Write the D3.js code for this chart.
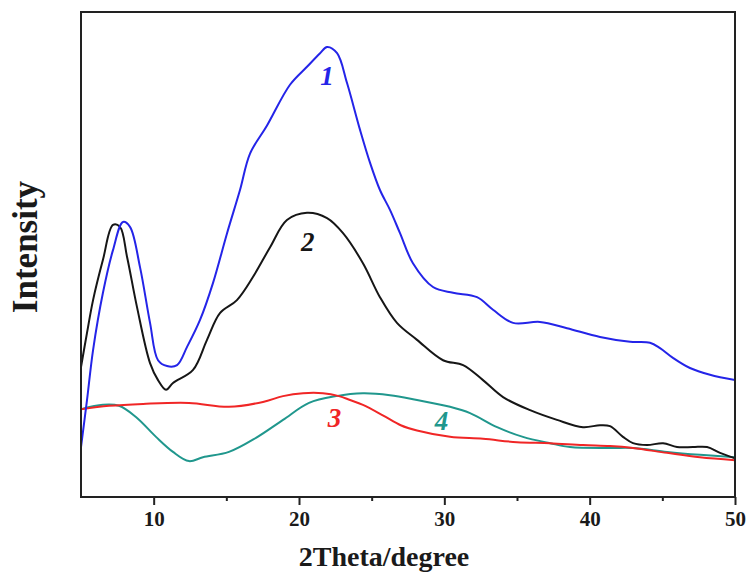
<!DOCTYPE html>
<html>
<head>
<meta charset="utf-8">
<script src="https://cdn.jsdelivr.net/npm/d3@7"></script>
<style>
  html, body { margin: 0; padding: 0; background: #fff; }
  svg { display: block; }
</style>
</head>
<body>
<svg id="chart" width="751" height="577"></svg>
<script>
// XRD patterns, intensity in arbitrary units vs 2θ (degree)
const curve1Theta = [5.0,5.41,5.83,6.51,7.20,7.89,8.37,9.06,9.75,10.30,10.92,11.61,12.29,13.19,14.08,15.05,15.94,16.63,17.80,19.38,20.55,21.45,21.93,22.62,23.30,24.20,24.89,25.57,26.26,26.95,27.84,29.22,30.60,32.25,33.35,34.73,36.58,38.44,40.71,42.78,44.15,44.84,45.73,46.90,48.28,50.0];
const curve1I     = [10.3,19.9,30.3,42.1,50.9,56.7,55.7,47.4,35.9,28.2,27.0,27.2,30.9,36.5,44.1,54.4,63.3,70.8,76.6,85.0,88.7,91.5,92.8,91.5,85.4,75.7,68.9,63.3,59.2,54.4,48.2,43.3,42.1,41.2,38.6,35.9,36.1,34.8,33.0,32.0,31.8,30.7,28.7,26.6,25.2,24.1];

const curve2Theta = [5.0,5.41,5.83,6.51,7.20,7.68,8.17,8.85,9.75,10.30,10.85,11.33,12.71,13.67,14.56,15.73,16.84,18.01,19.17,20.55,21.93,23.03,24.40,25.57,26.74,28.12,29.91,31.29,32.66,34.04,35.90,37.75,39.54,40.71,41.40,42.29,42.98,43.95,45.05,46.01,47.11,48.08,48.97,50.0];
const curve2I     = [26.8,33.8,40.6,48.9,56.1,55.7,49.5,39.2,27.6,24.1,22.1,23.5,26.2,32.4,37.9,40.6,45.4,51.5,57.1,58.6,57.5,54.4,48.2,41.2,35.9,32.4,28.2,27.2,24.1,20.6,17.9,15.9,14.4,14.8,14.6,12.4,11.1,10.7,11.1,10.3,10.3,10.3,9.1,8.0];

const curve3Theta = [5.0,6.93,9.27,12.43,15.18,17.52,18.90,20.28,21.65,22.75,23.51,24.40,25.80,27.00,28.12,30.39,32.66,35.0,37.27,39.54,41.40,42.98,45.32,47.59,50.0];
const curve3I     = [18.1,18.8,19.2,19.4,18.6,19.6,20.8,21.4,21.4,20.8,20.0,19.0,16.8,14.8,13.7,12.4,12.0,11.3,11.1,10.7,10.5,10.1,9.1,8.2,7.6];

const curve4Theta = [5.0,6.51,7.61,8.78,10.16,11.33,12.43,13.39,15.18,17.04,18.90,20.69,22.55,24.40,26.26,28.12,30.39,31.77,33.63,35.41,37.27,38.65,41.40,42.98,45.32,47.59,50.0];
const curve4I     = [18.1,19.0,18.8,16.5,12.4,9.3,7.4,8.2,9.3,12.2,15.9,19.4,20.8,21.4,21.0,20.0,18.6,17.3,14.4,12.4,11.1,10.3,10.1,10.1,9.3,8.7,8.2];

const seriesNames  = ["1", "2", "3", "4"];
const seriesColors = ["#2424e8", "#161616", "#f02626", "#20978d"];
// label anchor positions in data units (2θ, intensity)
const labelTheta = [21.93, 20.6, 22.45, 29.8];
const labelI     = [85.0, 50.8, 14.4, 13.9];

const majorTicks = [10, 20, 30, 40, 50];
const minorTicks = [15, 25, 35, 45];

const svg = d3.select("#chart");
const plotLeft = 81, plotRight = 735, plotTop = 12, plotBottom = 497;

const x = d3.scaleLinear().domain([5, 50]).range([plotLeft, plotRight]);
const y = d3.scaleLinear().domain([0, 100]).range([plotBottom, plotTop]);

const serif = "'Liberation Serif', 'DejaVu Serif', Times, serif";

const series = [
  {theta: curve1Theta, I: curve1I},
  {theta: curve2Theta, I: curve2I},
  {theta: curve3Theta, I: curve3I},
  {theta: curve4Theta, I: curve4I}
];

const line = d3.line()
  .x(d => x(d[0]))
  .y(d => y(d[1]))
  .curve(d3.curveCatmullRom.alpha(0.5));

const plot = svg.append("g");
plot.append("defs").append("clipPath").attr("id", "plotClip")
  .append("rect").attr("x", plotLeft).attr("y", plotTop)
  .attr("width", plotRight - plotLeft).attr("height", plotBottom - plotTop);

// draw order: teal and red underneath, black, then blue
[3, 2, 1, 0].forEach(i => {
  const pts = series[i].theta.map((t, k) => [t, series[i].I[k]]);
  plot.append("path")
    .attr("clip-path", "url(#plotClip)")
    .attr("d", line(pts))
    .attr("fill", "none")
    .attr("stroke", seriesColors[i])
    .attr("stroke-width", 2)
    .attr("stroke-linejoin", "round");
});

// curve numbers
seriesNames.forEach((name, i) => {
  svg.append("text")
    .attr("x", x(labelTheta[i]))
    .attr("y", y(labelI[i]))
    .attr("text-anchor", "middle")
    .attr("font-family", serif)
    .attr("font-style", "italic")
    .attr("font-weight", "bold")
    .attr("font-size", 27)
    .attr("fill", seriesColors[i])
    .text(name);
});

// frame
svg.append("rect")
  .attr("x", plotLeft).attr("y", plotTop)
  .attr("width", plotRight - plotLeft).attr("height", plotBottom - plotTop)
  .attr("fill", "none").attr("stroke", "#222").attr("stroke-width", 2);

// bottom axis: major ticks with labels
const xAxis = d3.axisBottom(x).tickValues(majorTicks).tickSize(8).tickPadding(6).tickFormat(d3.format("d"));
const gx = svg.append("g").attr("transform", `translate(0,${plotBottom})`).call(xAxis);
gx.select(".domain").remove();
gx.selectAll(".tick line").attr("stroke", "#222").attr("stroke-width", 2);
gx.selectAll(".tick text")
  .attr("font-family", serif).attr("font-weight", "bold")
  .attr("font-size", 21).attr("fill", "#1a1a1a");

// minor ticks
const xMinor = d3.axisBottom(x).tickValues(minorTicks).tickSize(4).tickFormat("");
const gm = svg.append("g").attr("transform", `translate(0,${plotBottom})`).call(xMinor);
gm.select(".domain").remove();
gm.selectAll(".tick line").attr("stroke", "#222").attr("stroke-width", 2);

// axis titles
svg.append("text")
  .attr("x", 384).attr("y", 566)
  .attr("text-anchor", "middle")
  .attr("font-family", serif).attr("font-weight", "bold")
  .attr("font-size", 28).attr("fill", "#1a1a1a")
  .text("2Theta/degree");

svg.append("text")
  .attr("transform", "translate(37,247) rotate(-90)")
  .attr("text-anchor", "middle")
  .attr("font-family", serif).attr("font-weight", "bold")
  .attr("font-size", 35).attr("fill", "#1a1a1a")
  .text("Intensity");
</script>
</body>
</html>
